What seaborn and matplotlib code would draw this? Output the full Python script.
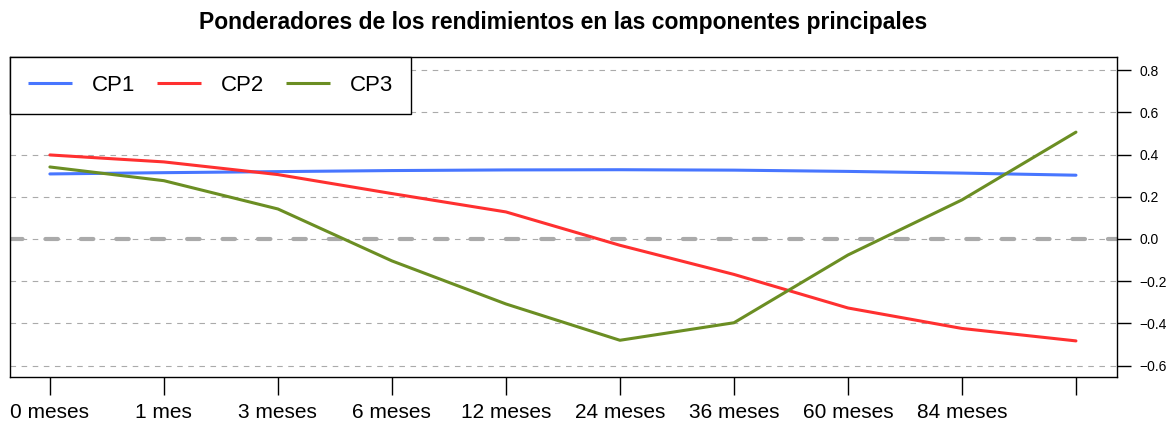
import numpy as np
import pandas as pd
import matplotlib
matplotlib.use("Agg")
import matplotlib.pyplot as plt
import seaborn as sns

# plazos (the last tick has no label in the original)
plazos = ["0 meses", "1 mes", "3 meses", "6 meses", "12 meses", "24 meses",
          "36 meses", "60 meses", "84 meses", ""]
cp1 = [0.308, 0.314, 0.319, 0.324, 0.327, 0.328, 0.326, 0.320, 0.312, 0.302]
cp2 = [0.398, 0.365, 0.305, 0.215, 0.128, -0.030, -0.168, -0.327, -0.424, -0.483]
cp3 = [0.341, 0.276, 0.142, -0.104, -0.308, -0.480, -0.397, -0.076, 0.185, 0.506]
yticks = [-0.6, -0.4, -0.2, 0.0, 0.2, 0.4, 0.6, 0.8]
colores = {"CP1": "#4876FF", "CP2": "#FF3030", "CP3": "#6B8E23"}

df = pd.DataFrame({"plazo": np.tile(np.arange(len(plazos)), 3),
                   "peso": cp1 + cp2 + cp3,
                   "comp": ["CP1"] * 10 + ["CP2"] * 10 + ["CP3"] * 10})

sns.set_style("white")
plt.rcParams["font.family"] = ["Liberation Sans", "DejaVu Sans"]
plt.rcParams.update({"text.color": "black", "xtick.color": "black",
                     "ytick.color": "black", "axes.labelcolor": "black"})

fig = plt.figure(figsize=(11.73, 4.23), dpi=100)
ax = fig.add_axes([10 / 1173, 46 / 423, 1107 / 1173, 320 / 423])

for y in yticks:
    ax.axhline(y, color="#AAAAAA", lw=0.8, ls=(0, (5, 5)), zorder=1)
ax.axhline(0, color="#AAAAAA", lw=3, dashes=(3, 5.5), dash_capstyle="round", zorder=1)

sns.lineplot(data=df, x="plazo", y="peso", hue="comp", palette=colores,
             lw=2.2, ax=ax, zorder=3)

ax.set_xlim(-0.35, 9.36)
ax.set_ylim(-0.654, 0.862)
ax.set_xticks(range(len(plazos)))
ax.set_xticklabels(plazos, fontsize=15)
ax.yaxis.tick_right()
ax.set_yticks(yticks)
ax.set_yticklabels([f"{v:.1f}".replace("-", "\u2212") for v in yticks], fontsize=10)
ax.tick_params(axis="x", direction="out", length=13, width=1, pad=6, bottom=True)
ax.tick_params(axis="y", direction="out", length=10, width=1, pad=6, right=True)
ax.set_xlabel("")
ax.set_ylabel("")
for s in ax.spines.values():
    s.set_color("black")
    s.set_linewidth(1)

leg = ax.legend(loc="upper left", ncol=3, fontsize=16, frameon=True, fancybox=False,
                borderaxespad=0, handlelength=2.0, handletextpad=0.9,
                columnspacing=0.95, borderpad=0.8)
for h in leg.get_lines():
    h.set_solid_capstyle("butt")
leg.get_frame().set_edgecolor("black")
leg.get_frame().set_linewidth(1)
leg.get_frame().set_alpha(1)

fig.suptitle("Ponderadores de los rendimientos en las componentes principales",
             fontsize=16.5, fontweight="bold", x=563 / 1173, y=1 - 23 / 423, va="center")

fig.savefig("out.png", dpi=100)
plt.close()
